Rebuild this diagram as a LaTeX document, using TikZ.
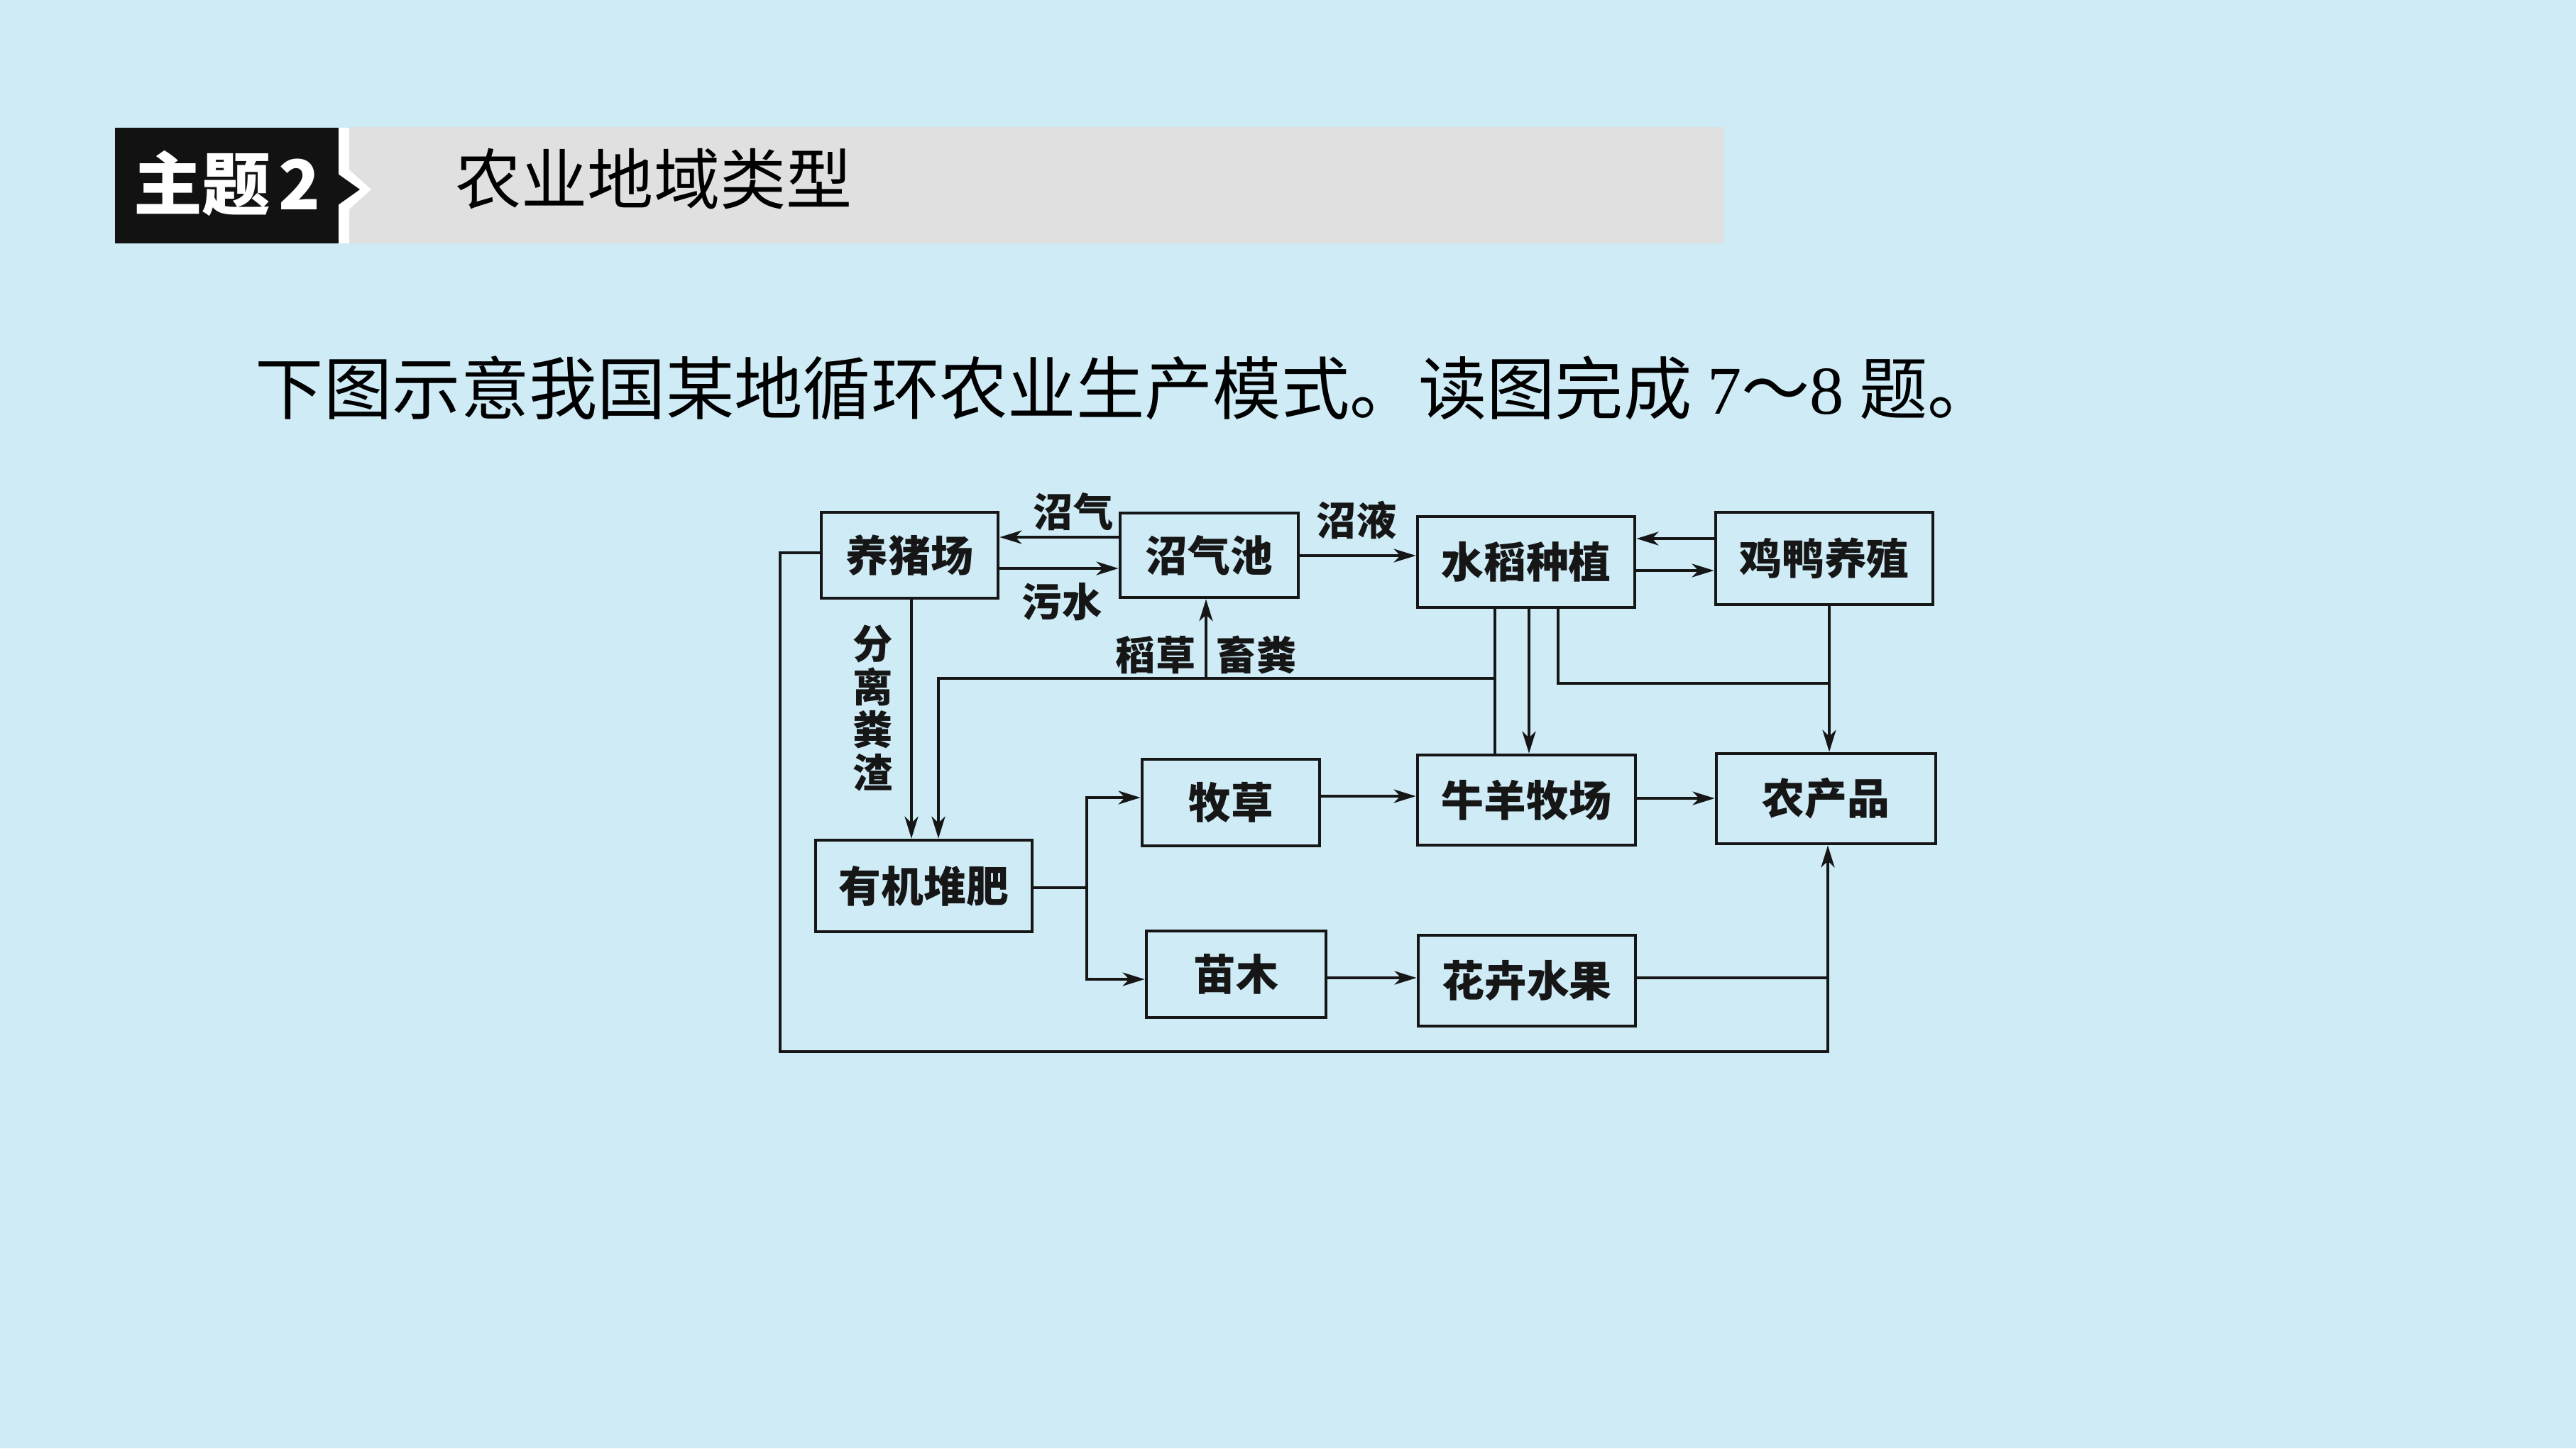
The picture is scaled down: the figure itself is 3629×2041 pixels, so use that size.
\documentclass[tikz,border=0pt]{standalone}
\usepackage{fontspec}
\setmainfont{Noto Sans CJK SC}
\newfontfamily\tmsfont{Liberation Serif}
\usetikzlibrary{arrows.meta}
\definecolor{bg}{RGB}{206,235,246}
\definecolor{bar}{RGB}{224,224,224}
\definecolor{ink}{RGB}{22,22,22}
\begin{document}
\begin{tikzpicture}[x=0.01cm,y=-0.01cm,
  box/.style={draw=ink, line width=1.3pt, inner sep=0pt, text=ink,
              font=\fontsize{17pt}{20pt}\selectfont\bfseries},
  conn/.style={draw=ink, line width=1.1pt},
  arr/.style={conn, -{Stealth[length=0.31cm,width=0.19cm,inset=0.09cm]}},
  lbl/.style={font=\fontsize{16pt}{17.3pt}\selectfont\bfseries, inner sep=0pt, text=ink, align=center}]
% background
\fill[bg] (0,0) rectangle (3629,2041);
\useasboundingbox (0,0) rectangle (3629,2041);
% header
\fill[bar] (492,179) rectangle (2429,343);
\fill[white] (477,180) rectangle (492,343);
\fill[white] (477,226) -- (523,267) -- (477,308) -- cycle;
\fill[black!93] (162,180) rectangle (477,343);
\fill[black!93] (476,245) -- (507,267) -- (476,289) -- cycle;
\node[text=white, inner sep=0pt, font=\fontsize{27.5pt}{30pt}\selectfont\bfseries] (tnum) at (320,259) {主题\kern0.12em 2};
\node[text=black, inner sep=0pt, font=\fontsize{26.5pt}{30pt}\selectfont] (ttl) at (921,252) {农业地域类型};
% question
\node[text=black, inner sep=0pt, font=\fontsize{27.4pt}{32pt}\selectfont] (q) at (1586,547)
  {下图示意我国某地循环农业生产模式。读图完成 {\tmsfont 7}～{\tmsfont 8} 题。};
% boxes
\node[box, minimum width=2.49cm, minimum height=1.21cm] (pig) at (1281.5,782.5) {养猪场};
\node[box, minimum width=2.51cm, minimum height=1.19cm] (biogas) at (1703.5,782.5) {沼气池};
\node[box, minimum width=3.06cm, minimum height=1.28cm] (rice) at (2150,792) {水稻种植};
\node[box, minimum width=3.06cm, minimum height=1.30cm] (duck) at (2570,787) {鸡鸭养殖};
\node[box, minimum width=3.05cm, minimum height=1.29cm] (compost) at (1301.5,1248.5) {有机堆肥};
\node[box, minimum width=2.50cm, minimum height=1.22cm] (grass) at (1734,1131) {牧草};
\node[box, minimum width=3.07cm, minimum height=1.27cm] (ranch) at (2150.5,1127.5) {牛羊牧场};
\node[box, minimum width=3.09cm, minimum height=1.27cm] (product) at (2572.5,1125.5) {农产品};
\node[box, minimum width=2.53cm, minimum height=1.22cm] (seed) at (1741.5,1373) {苗木};
\node[box, minimum width=3.06cm, minimum height=1.28cm] (flower) at (2151,1382) {花卉水果};
% junction coordinates
\coordinate (jl) at (1099,1482);
\coordinate (jr) at (2575,1378);
\coordinate (jh) at (2106,956);
\coordinate (ju) at (1699,956);
\coordinate (jc) at (1531,1251);
\coordinate (jd) at (2577,963);
% top row connectors
\draw[arr] (biogas.west |- 0,757) -- (pig.east |- 0,757);
\draw[arr] (pig.east |- 0,801) -- (biogas.west |- 0,801);
\draw[arr] (biogas.east |- 0,783) -- (rice.west |- 0,783);
\draw[arr] (duck.west |- 0,759) -- (rice.east |- 0,759);
\draw[arr] (rice.east |- 0,804) -- (duck.west |- 0,804);
% pig -> compost
\draw[arr] (pig.south -| 1284,0) -- (compost.north -| 1284,0);
% big loop
\draw[arr] (pig.west |- 0,779) -| (jl) -| (product.south -| 2575,0);
\draw[conn] (flower.east |- jr) -- (jr);
% rice / ranch to compost and biogas
\draw[conn] (rice.south -| jh) -- (ranch.north -| jh);
\draw[arr] (jh) -| (compost.north -| 1322,0);
\draw[arr] (ju) -- (biogas.south -| ju);
\draw[arr] (rice.south -| 2154,0) -- (ranch.north -| 2154,0);
\draw[conn] (rice.south -| 2195,0) |- (jd);
\draw[arr] (duck.south -| jd) -- (product.north -| jd);
% compost branches
\draw[conn] (compost.east |- jc) -- (jc);
\draw[arr] (jc) |- (grass.west |- 0,1124);
\draw[arr] (jc) |- (seed.west |- 0,1380);
\draw[arr] (grass.east |- 0,1122) -- (ranch.west |- 0,1122);
\draw[arr] (ranch.east |- 0,1125) -- (product.west |- 0,1125);
\draw[arr] (seed.east |- 0,1378) -- (flower.west |- 0,1378);
% labels
\node[lbl] (l1) at (1512,721) {沼气};
\node[lbl] (l2) at (1496,848) {污水};
\node[lbl] (l3) at (1911,733) {沼液};
\node[lbl] (l4) at (1628,923) {稻草};
\node[lbl] (l5) at (1770,923) {畜粪};
\node[lbl] (l6) at (1230,998) {分\\离\\粪\\渣};
\end{tikzpicture}
\end{document}
